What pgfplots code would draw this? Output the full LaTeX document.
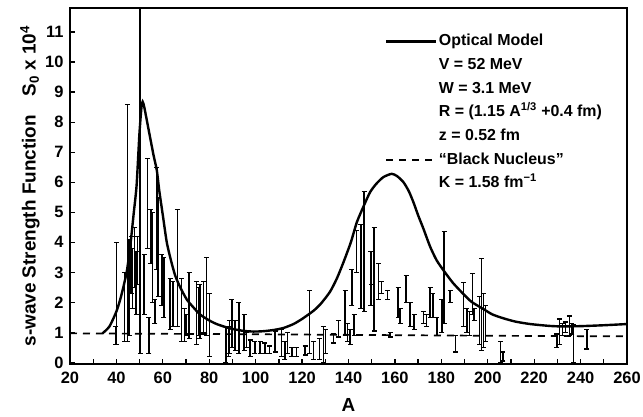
\documentclass[border=0pt]{standalone}
\usepackage{fontspec}
\setmainfont{Liberation Sans}
\usepackage{pgfplots}
\usepackage{pgfplotstable}
\pgfplotsset{compat=1.18}

\pgfplotstableread{
A lo hi
39.5 0.6 1.2
40.1 0.6 4.0
43.5 0.7 3.0
44.7 0.7 8.6
45.5 0.9 4.1
46.3 2.3 4.2
47.0 1.8 3.8
47.7 2.5 4.5
48.5 1.6 3.7
49.0 2.6 4.2
50.2 0.3 12.0
51.9 1.6 3.6
53.5 3.8 6.8
54.0 0.3 1.5
54.8 3.3 5.1
55.6 2.0 5.0
56.6 1.3 2.1
57.4 3.1 6.5
58.0 2.2 5.5
59.6 1.9 3.6
60.5 1.5 3.5
63.1 1.1 2.8
64.3 1.2 2.7
66.3 1.2 5.1
68.1 0.7 2.8
69.3 0.7 1.8
70.0 0.9 1.6
71.3 0.8 3.0
74.5 0.6 2.7
75.3 0.9 2.5
76.0 0.8 2.6
77.5 1.0 2.7
78.8 0.9 3.5
80.0 0.2 2.3
87.2 0.0 1.2
88.2 0.2 1.2
88.8 0.3 1.4
89.7 0.5 2.1
91.1 0.4 1.4
92.8 0.3 2.0
95.0 0.4 1.6
96.0 0.5 1.0
97.6 0.2 0.75
99.7 0.3 0.7
101.9 0.3 0.7
104.0 0.3 0.65
105.9 0.3 0.55
108.4 0.35 1.05
111.2 0.2 1.1
112.6 0.1 0.7
113.7 0.3 1.0
115.6 0.2 0.5
117.7 0.2 0.5
121.3 0.25 0.55
123.2 0.3 2.4
124.9 0.1 0.7
127.5 0.1 0.8
129.2 0.0 1.2
130.0 0.3 1.1
133.5 0.65 0.95
135.7 0.85 1.4
138.5 0.9 2.4
139.5 0.7 1.3
140.7 0.6 1.1
141.4 1.9 3.1
142.4 0.9 1.6
143.5 3.0 4.4
145.3 1.8 4.6
146.7 1.7 5.7
149.6 1.9 3.7
149.9 2.6 3.7
151.0 1.05 4.5
152.9 2.1 3.3
154.3 2.3 2.7
156.8 2.1 2.4
157.9 0.85 1.0
161.4 1.5 2.5
162.2 1.3 1.8
164.8 2.0 2.9
166.6 1.2 2.0
168.3 1.1 1.6
172.3 1.3 1.7
173.7 1.2 1.6
175.2 1.5 2.5
176.4 1.5 2.3
178.1 0.9 1.5
180.2 1.0 2.1
181.2 1.3 4.35
183.8 2.0 2.4
186.0 0.35 0.9
189.5 1.2 2.65
191.0 1.0 1.8
192.1 0.9 1.7
193.4 1.6 2.95
194.1 1.4 1.8
196.5 0.6 2.2
197.4 0.4 3.45
198.2 0.5 2.3
199.0 0.7 1.9
205.5 0.0 0.7
206.5 0.05 0.35
229.8 0.5 0.95
230.9 0.6 1.45
232.3 0.9 1.3
233.4 1.0 1.35
235.2 0.9 1.55
236.2 0.95 1.3
236.9 0.0 1.25
242.7 0.45 1.1
}\bars

\pgfplotstableread{
A S
34 0.97
37 1.2
40 1.7
42 2.2
44.4 3.0
46 3.9
47.5 5.0
48.7 5.9
49.9 7.6
50.8 8.5
51.3 8.68
52 8.5
54 7.7
56 6.9
57.4 6.4
58.5 5.7
60 4.9
61.7 4.0
63.5 3.4
65.3 2.9
67.5 2.5
70.3 2.1
73 1.85
76 1.6
80 1.4
83.2 1.28
87 1.18
90.4 1.11
95 1.05
99 1.03
103 1.04
107.6 1.08
112 1.15
116.3 1.28
120 1.45
124.9 1.72
128 1.95
132 2.35
135 2.8
137.8 3.33
141 4.0
143.6 4.67
146.5 5.2
149.3 5.67
152 5.95
155 6.17
158.6 6.28
161 6.2
163.7 6.0
166 5.7
168 5.33
170 4.9
172.3 4.45
175.2 3.85
178 3.4
181 3.06
185 2.65
189.5 2.28
193 2.02
198.1 1.78
202 1.6
206.8 1.47
212 1.36
218.3 1.28
226.2 1.22
232 1.2
240 1.21
250 1.24
260 1.28
}\optical

\pgfplotstableread{
A S
20 0.97
100 0.94
140 0.92
200 0.89
260 0.87
}\black

\begin{document}
\begin{tikzpicture}
\begin{axis}[
  scale only axis,
  width=557bp, height=356bp,
  xmin=20, xmax=260, ymin=-0.05, ymax=11.8,
  axis line style={line width=1.8bp},
  xtick={20,40,...,260}, minor xtick={30,50,...,250},
  ytick={0,1,...,11},
  tick align=inside, xtick pos=bottom, ytick pos=left,
  major tick length=5bp, minor tick length=5bp,
  every tick/.style={black, line width=1.3bp},
  /pgf/number format/assume math mode=true,
  tick label style={font=\fontsize{16.5}{20}\selectfont\bfseries},
  xticklabel style={yshift=-5bp},
  yticklabel style={xshift=-3bp},
  xlabel={A}, ylabel={s-wave Strength Function\quad S\textsubscript{0} x 10\textsuperscript{4}},
  label style={font=\fontsize{19}{24}\selectfont\bfseries},
  xlabel style={at={(axis description cs:0.5,-0.115)}, anchor=center},
  ylabel style={at={(axis description cs:-0.072,0.5)}, anchor=center, rotate=0},
  legend style={at={(axis description cs:0.5655,0.934)}, anchor=north west,
    draw=none, fill=none, inner sep=0pt, row sep=4.2bp,
    font=\fontsize{16}{20}\selectfont\bfseries,
    nodes={inner sep=1.5bp, text height=12.5bp, text depth=4bp}},
  legend cell align=left,
  legend image code/.code={\draw[#1] (0bp,0bp) -- (50bp,0bp);},
]
\addplot[draw=none, mark=none, forget plot,
  error bars/.cd, y dir=both, y explicit, error mark=-,
  error bar style={draw=black, line width=1.5bp},
  error mark options={draw=black, rotate=90, line width=1.2bp, mark size=2.5bp}]
  table[x=A, y expr={(\thisrow{lo}+\thisrow{hi})/2}, y error expr={(\thisrow{hi}-\thisrow{lo})/2}] {\bars};
\addplot[black, line width=1.7bp, dash pattern=on 7bp off 6bp, forget plot] table[x=A, y=S] {\black};
\addplot[black, line width=2.4bp, smooth, tension=0.4, forget plot] table[x=A, y=S] {\optical};

\addlegendimage{black, line width=2.2bp}
\addlegendentry{Optical Model}
\addlegendimage{empty legend}
\addlegendentry{V = 52 MeV}
\addlegendimage{empty legend}
\addlegendentry{W = 3.1 MeV}
\addlegendimage{empty legend}
\addlegendentry{R = (1.15 A\textsuperscript{1/3} +0.4 fm)}
\addlegendimage{empty legend}
\addlegendentry{z = 0.52 fm}
\addlegendimage{black, line width=1.7bp, dash pattern=on 7bp off 6bp}
\addlegendentry{``Black Nucleus''}
\addlegendimage{empty legend}
\addlegendentry{K = 1.58 fm\textsuperscript{−1}}
\end{axis}
\pgfresetboundingbox
\path (-70bp,-53bp) rectangle (573bp,364bp);
\end{tikzpicture}
\end{document}
